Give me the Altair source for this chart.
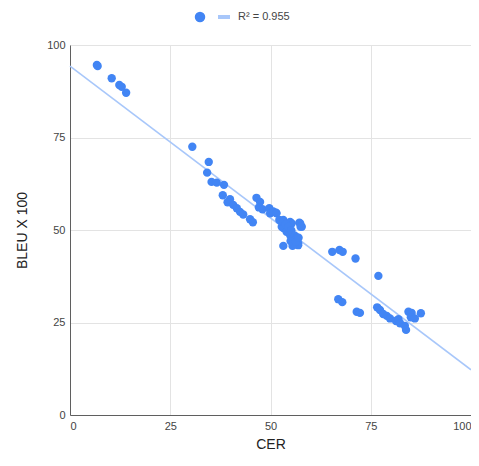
import altair as alt
import pandas as pd

cer = [6.7, 6.9, 10.4, 12.3, 12.9, 14.0, 30.5, 34.6, 34.2, 35.3, 36.6, 38.4, 38.1, 39.9,
       39.3, 40.7, 41.6, 42.4, 43.2, 44.9, 45.6, 46.5, 47.4, 47.1, 48.0, 49.7, 49.9, 51.4,
       50.7, 51.5, 52.2, 53.2, 52.8, 54.0, 55.3, 57.2, 57.8, 54.9, 56.1, 56.9, 53.2, 53.2,
       54.9, 57.4, 57.5, 53.2, 54.0, 54.9, 55.7, 56.5, 56.9, 55.5, 53.8, 54.5, 55.2, 56.0,
       56.6, 55.0, 56.3, 57.0,
       65.4, 67.2, 68.0, 71.2, 76.9, 66.9, 67.9, 71.5, 72.3, 76.6, 77.3, 78.1, 79.0, 79.8,
       81.3, 81.9, 82.3, 83.5, 83.8, 84.4, 85.2, 85.0, 86.0, 87.5]
bleu = [94.6, 94.3, 91.0, 89.2, 88.7, 87.1, 72.5, 68.4, 65.5, 63.0, 62.8, 62.2, 59.4, 58.3,
        57.5, 56.8, 55.9, 54.9, 54.2, 52.9, 52.1, 58.7, 57.6, 56.1, 55.6, 55.9, 54.5, 54.7,
        55.0, 54.5, 52.7, 52.7, 50.9, 50.0, 51.8, 52.0, 50.9, 48.6, 47.3, 46.4, 45.7, 52.2,
        52.2, 51.8, 50.9, 50.5, 49.5, 49.1, 47.7, 47.3, 45.9, 45.7, 51.5, 50.8, 49.9, 48.5,
        48.0, 47.0, 46.8, 47.9,
        44.1, 44.6, 44.1, 42.3, 37.6, 31.3, 30.5, 27.9, 27.6, 29.1, 28.4, 27.3, 26.8, 26.1,
        25.4, 25.9, 24.8, 24.1, 23.0, 27.9, 27.6, 26.4, 26.1, 27.5]

# trendline end points
trend_cer = [0, 100]
trend_bleu = [94.3, 12.2]

ticks = [0, 25, 50, 75, 100]
legend_label = ["R² = 0.955"]

df = pd.DataFrame({"CER": cer, "BLEU": bleu})
trend_df = pd.DataFrame({"CER": trend_cer, "BLEU": trend_bleu})

FONT = "Liberation Sans"
POINT = "#4285F4"
TREND = "#a8c7fa"

x = alt.X("CER:Q", title="CER", scale=alt.Scale(domain=[0, 100], nice=False),
          axis=alt.Axis(values=ticks, grid=True, gridColor="#e3e3e3", ticks=False,
                        domainColor="#5f5f5f", labelColor="#444", labelFontSize=11,
                        labelFont=FONT, labelPadding=5, titleFont=FONT, titleFontSize=14,
                        titleFontWeight="normal", titleColor="#222", titlePadding=6))
y = alt.Y("BLEU:Q", title="BLEU X 100", scale=alt.Scale(domain=[0, 100], nice=False),
          axis=alt.Axis(values=ticks, grid=True, gridColor="#e3e3e3", ticks=False,
                        domainColor="#5f5f5f", labelColor="#444", labelFontSize=11,
                        labelFont=FONT, labelPadding=5, titleFont=FONT, titleFontSize=14,
                        titleFontWeight="normal", titleColor="#222", titlePadding=17))

trend = alt.Chart(trend_df).mark_line(color=TREND, strokeWidth=1.6).encode(x=x, y=y)

points = alt.Chart(df).mark_circle(size=70, color=POINT, opacity=1).encode(x=x, y=y)

leg_df = pd.DataFrame({"label": legend_label})
leg = alt.Chart(leg_df)
leg_dot = leg.mark_circle(size=110, color=POINT, opacity=1).encode(
    x=alt.value(130), y=alt.value(-28))
leg_line = leg.mark_rule(color=TREND, strokeWidth=4).encode(
    x=alt.value(148), x2=alt.value(160), y=alt.value(-28))
leg_text = leg.mark_text(align="left", baseline="middle", font=FONT, fontSize=11,
                         color="#444").encode(x=alt.value(168), y=alt.value(-28),
                                              text="label:N")

chart = alt.layer(trend, points, leg_dot, leg_line, leg_text).properties(
    width=401, height=370,
    autosize=alt.AutoSizeParams(type="none"),
    padding={"left": 62, "top": 37, "right": 0, "bottom": 39},
).configure_view(stroke=None)

chart.save("out.html", embed_options={"renderer": "svg", "actions": False})
